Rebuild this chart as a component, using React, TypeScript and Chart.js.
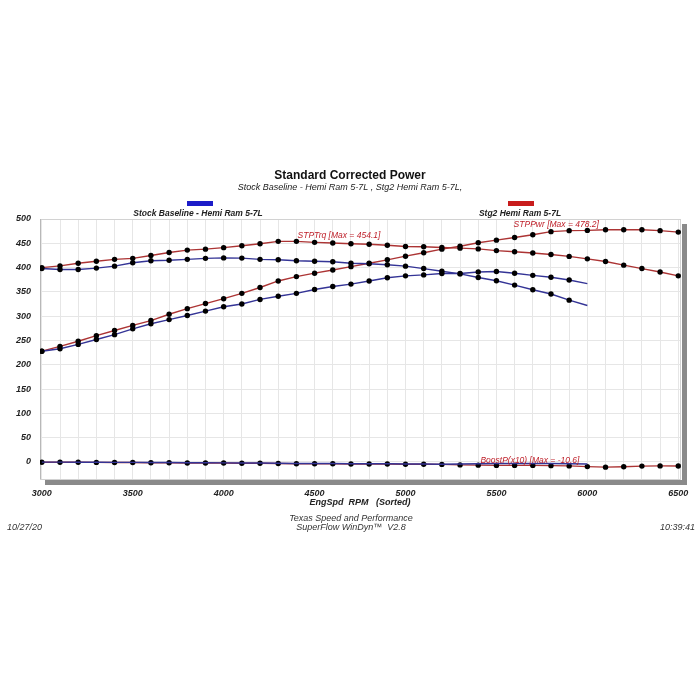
import { useEffect, useRef } from 'react';
import { Chart, registerables } from 'chart.js';

Chart.register(...registerables);

// engine speed (rpm) for every logged row
const rpm = [
  3000, 3100, 3200, 3300, 3400, 3500, 3600, 3700, 3800, 3900,
  4000, 4100, 4200, 4300, 4400, 4500, 4600, 4700, 4800, 4900,
  5000, 5100, 5200, 5300, 5400, 5500, 5600, 5700, 5800, 5900,
  6000, 6100, 6200, 6300, 6400, 6500,
];

// Stock Baseline - Hemi Ram 5-7L (3000..6000)
const stockTrq = [
  398, 396, 396, 399, 403, 410, 414, 415, 417, 419,
  420, 419.5, 417, 416, 414, 413, 412, 409, 408, 406,
  403, 398, 392.5, 387, 379.5, 373, 364, 354.5, 345.7, 333,
  322,
];
const stockPwr = [
  228, 233, 242, 252, 262, 274, 284.5, 293, 301.5, 310.5,
  319.5, 325, 334.5, 341, 347, 355, 361, 366, 372.5, 379,
  383, 385, 388, 388, 391, 392, 388.5, 384, 380, 374.5,
  367,
];
const stockBoost = [
  -0.3, -0.3, -0.5, -0.5, -0.8, -0.8, -1, -1.2, -1.5, -1.5,
  -1.8, -2, -2, -2.5, -3, -3, -3, -3.5, -3.5, -3.5,
  -4, -4, -4.5, -4, -3.5, -3, -3, -3, -3.2, -3.5,
  -4,
];

// Stg2 Hemi Ram 5-7L (3000..6500)
const stg2Trq = [
  400, 403.5, 409, 413, 417, 419, 425, 431, 436, 438,
  441, 445, 449, 454, 454, 452, 450.5, 449, 448, 446,
  443.5, 443, 441.5, 440, 438.5, 435, 432.5, 430, 427, 423,
  418, 412.5, 405, 398, 391, 383,
];
const stg2Pwr = [
  228, 238, 248.5, 260, 270.5, 281, 291, 304, 315.5, 326,
  336, 347, 359, 372.5, 381.5, 388.5, 395, 402, 409, 416,
  423.5, 430.5, 438, 444, 451, 456.5, 462, 467.5, 474, 476,
  476.5, 478, 478, 478, 476, 473,
];
const stg2Boost = [
  -0.5, -0.5, -0.5, -0.8, -1, -1, -1.5, -1.5, -2, -2,
  -2, -2.5, -2.5, -3, -3.5, -3.5, -3.5, -4, -4, -4,
  -4.5, -4.5, -5, -6, -6.5, -7, -7, -7, -7.5, -8,
  -9.5, -10.6, -9.8, -8.5, -8, -8.3,
];

const xLabelTicks = [3000, 3500, 4000, 4500, 5000, 5500, 6000, 6500];
const yTicks = [0, 50, 100, 150, 200, 250, 300, 350, 400, 450, 500];

const curveNotes = [
  { text: 'STPTrq [Max = 454.1]', rpm: 4634, value: 465 },
  { text: 'STPPwr [Max = 478.2]', rpm: 5829, value: 488 },
  { text: 'BoostP(x10) [Max = -10.6]', rpm: 5684, value: 2 },
];

const FONT = '"Liberation Sans", Arial, sans-serif';
const RED = 'rgb(172, 52, 52)';
const BLUE = 'rgb(52, 52, 150)';
const DOT = 2.7;

const toPoints = (vals: number[]) => vals.map((v, i) => ({ x: rpm[i], y: v }));

// stock runs have no dot on the last row
const stockDots = stockTrq.map((_, i) => (i === stockTrq.length - 1 ? 0 : DOT));

const framePlugin = {
  id: 'frame',
  beforeDatasetsDraw(chart: Chart) {
    const { ctx, chartArea: a } = chart;
    ctx.save();
    ctx.fillStyle = '#8a8a8a';
    ctx.fillRect(a.left + 5, a.bottom + 1, a.right - a.left, 5);
    ctx.fillRect(a.right + 1, a.top + 5, 5, a.bottom - a.top + 1);
    ctx.strokeStyle = '#d2d2d2';
    ctx.lineWidth = 1;
    ctx.strokeRect(a.left + 0.5, a.top + 0.5, a.right - a.left - 1, a.bottom - a.top);
    ctx.strokeStyle = '#b8b8b8';
    ctx.beginPath();
    ctx.moveTo(a.left + 0.5, a.top);
    ctx.lineTo(a.left + 0.5, a.bottom);
    ctx.stroke();
    ctx.restore();
  },
};

const notesPlugin = {
  id: 'notes',
  afterDatasetsDraw(chart: Chart) {
    const { ctx, scales } = chart;
    ctx.save();
    ctx.font = `italic 8.5px ${FONT}`;
    ctx.fillStyle = 'rgb(190, 30, 40)';
    ctx.textAlign = 'center';
    ctx.textBaseline = 'middle';
    curveNotes.forEach((n) => {
      ctx.fillText(n.text, scales.x.getPixelForValue(n.rpm), scales.y.getPixelForValue(n.value));
    });
    ctx.restore();
  },
};

const DynoChart = () => {
  const canvasRef = useRef<HTMLCanvasElement>(null);
  const chartRef = useRef<Chart | null>(null);

  useEffect(() => {
    if (!canvasRef.current) return;
    if (chartRef.current) chartRef.current.destroy();

    const line = (vals: number[], color: string, radius: number | number[]) => ({
      data: toPoints(vals),
      borderColor: color,
      borderWidth: 1.4,
      pointRadius: radius,
      pointBackgroundColor: '#000',
      pointBorderWidth: 0,
      tension: 0,
    });

    chartRef.current = new Chart(canvasRef.current, {
      type: 'line',
      data: {
        datasets: [
          line(stockBoost, BLUE, 0),
          line(stg2Boost, RED, DOT),
          line(stockTrq, BLUE, stockDots),
          line(stockPwr, BLUE, stockDots),
          line(stg2Trq, RED, DOT),
          line(stg2Pwr, RED, DOT),
        ],
      },
      options: {
        responsive: false,
        animation: false,
        layout: { padding: { top: 219, right: 19, left: 0, bottom: 0 } },
        plugins: {
          legend: { display: false },
          tooltip: { enabled: false },
        },
        scales: {
          x: {
            type: 'linear',
            min: 2990,
            max: 6515,
            afterBuildTicks: (s: any) => {
              s.ticks = rpm.map((v) => ({ value: v }));
            },
            afterFit: (s: any) => {
              s.height = 221;
            },
            grid: { color: '#e6e6e6', drawTicks: false },
            border: { display: false },
            ticks: {
              padding: 9,
              autoSkip: false,
              maxRotation: 0,
              color: '#222',
              font: { size: 9, style: 'italic', weight: 'bold' },
              callback: (v: any) => (xLabelTicks.includes(Number(v)) ? String(v) : ''),
            },
          },
          y: {
            min: -35,
            max: 500,
            afterBuildTicks: (s: any) => {
              s.ticks = yTicks.map((v) => ({ value: v }));
            },
            afterFit: (s: any) => {
              s.width = 40;
            },
            grid: { color: '#e6e6e6', drawTicks: false },
            border: { display: false },
            ticks: {
              padding: 9,
              color: '#222',
              font: { size: 9, style: 'italic', weight: 'bold' },
            },
          },
        },
      },
      plugins: [framePlugin, notesPlugin],
    });

    return () => {
      if (chartRef.current) {
        chartRef.current.destroy();
        chartRef.current = null;
      }
    };
  }, []);

  return <canvas ref={canvasRef} width={700} height={700} style={{ position: 'absolute', left: 0, top: 0 }} />;
};

const txt = (top: number, size: number, extra: React.CSSProperties = {}): React.CSSProperties => ({
  position: 'absolute',
  top,
  fontSize: size,
  lineHeight: `${size + 2}px`,
  fontFamily: FONT,
  fontStyle: 'italic',
  color: '#222',
  whiteSpace: 'pre',
  ...extra,
});

const centered = (cx: number): React.CSSProperties => ({
  left: cx - 200,
  width: 400,
  textAlign: 'center',
});

export default function App() {
  Chart.defaults.font.family = FONT;
  return (
    <div style={{
      position: 'absolute', left: 0, top: 0, width: 700, height: 700, background: '#fff', overflow: 'hidden' 
    }}>
      <DynoChart />
      <div style={txt(168, 12, { ...centered(350), fontStyle: 'normal', fontWeight: 'bold', color: '#111' })}>
        Standard Corrected Power
      </div>
      <div style={txt(182, 9, centered(350))}>
        Stock Baseline - Hemi Ram 5-7L , Stg2 Hemi Ram 5-7L,
      </div>
      <div style={{
        position: 'absolute', left: 187, top: 201, width: 26, height: 5, background: '#1c1cc8' 
      }} />
      <div style={{
        position: 'absolute', left: 508, top: 201, width: 26, height: 5, background: '#c81c1c' 
      }} />
      <div style={txt(208, 8.5, { ...centered(198), fontWeight: 'bold' })}>Stock Baseline - Hemi Ram 5-7L</div>
      <div style={txt(208, 8.5, { ...centered(520), fontWeight: 'bold' })}>Stg2 Hemi Ram 5-7L</div>
      <div style={txt(497, 9, { ...centered(360), fontWeight: 'bold' })}>EngSpd  RPM   (Sorted)</div>
      <div style={txt(513, 9, { ...centered(351), color: '#333' })}>Texas Speed and Performance</div>
      <div style={txt(522, 9, { ...centered(351), color: '#333' })}>SuperFlow WinDyn™  V2.8</div>
      <div style={txt(522, 9, { left: 7, color: '#333' })}>10/27/20</div>
      <div style={txt(522, 9, { left: 660, color: '#333' })}>10:39:41</div>
    </div>
  );
}
